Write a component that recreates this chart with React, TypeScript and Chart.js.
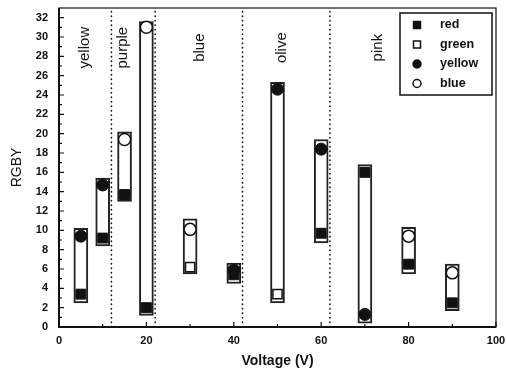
import React, { useEffect, useRef } from 'react';
import { Chart, registerables } from 'chart.js';

Chart.register(...registerables);

// ---- data ----
const voltages = [5, 10, 15, 20, 30, 40, 50, 60, 70, 80, 90];
const redValues = [3.4, 9.2, 13.7, 2.0, null, 5.4, null, 9.7, 16.0, 6.5, 2.5];
const greenValues = [null, null, null, null, 6.2, null, 3.4, null, null, null, null];
const yellowValues = [9.4, 14.7, null, null, null, 5.9, 24.6, 18.4, 1.3, null, null];
const blueValues = [null, null, 19.4, 31.0, 10.1, null, null, null, null, 9.4, 5.6];
const rangeLow = [2.5, 8.4, 13.0, 1.2, 5.5, 4.5, 2.5, 8.7, 0.4, 5.5, 1.7];
const rangeHigh = [10.2, 15.4, 20.2, 31.6, 11.2, 6.6, 25.3, 19.4, 16.8, 10.3, 6.5];
const dividerVoltages = [12, 22, 42, 62];
const regionLabels = ['yellow', 'purple', 'blue', 'olive', 'pink'];
const regionLabelVoltages = [6, 14.7, 32.3, 51.1, 72.9];
const regionLabelLevel = 28.9;
const xTicks = [0, 20, 40, 60, 80, 100];
const yTicks = [0, 2, 4, 6, 8, 10, 12, 14, 16, 18, 20, 22, 24, 26, 28, 30, 32];
const xMinorTicks = [10, 30, 50, 70, 90];
const yMinorTicks = [1, 3, 5, 7, 9, 11, 13, 15, 17, 19, 21, 23, 25, 27, 29, 31];

const FONT = "'Liberation Sans', Arial, sans-serif";
const INK = '#111';

const toPoints = (vals: (number | null)[]) =>
  voltages
    .map((v, i) => ({ x: v, y: vals[i] }))
    .filter((p) => p.y !== null) as { x: number; y: number }[];

const decorPlugin = {
  id: 'decor',
  beforeDatasetsDraw(chart: any) {
    const { ctx, chartArea: ca, scales } = chart;
    ctx.save();
    ctx.strokeStyle = INK;
    ctx.lineWidth = 1.6;
    ctx.lineCap = 'round';
    ctx.setLineDash([0.5, 4]);
    dividerVoltages.forEach((v) => {
      const x = scales.x.getPixelForValue(v);
      ctx.beginPath();
      ctx.moveTo(x, ca.bottom);
      ctx.lineTo(x, ca.top);
      ctx.stroke();
    });
    ctx.restore();
  },
  afterDraw(chart: any) {
    const { ctx, chartArea: ca, scales } = chart;
    ctx.save();
    // frame
    ctx.strokeStyle = INK;
    ctx.lineWidth = 1.2;
    ctx.strokeRect(ca.left, ca.top, ca.right - ca.left, ca.bottom - ca.top);
    ctx.lineWidth = 2;
    ctx.beginPath();
    ctx.moveTo(ca.left, ca.top);
    ctx.lineTo(ca.left, ca.bottom);
    ctx.lineTo(ca.right, ca.bottom);
    ctx.stroke();
    // inward ticks
    ctx.lineWidth = 1.2;
    ctx.beginPath();
    yTicks.forEach((v) => {
      const y = scales.y.getPixelForValue(v);
      ctx.moveTo(ca.left, y);
      ctx.lineTo(ca.left + 5, y);
    });
    yMinorTicks.forEach((v) => {
      const y = scales.y.getPixelForValue(v);
      ctx.moveTo(ca.left, y);
      ctx.lineTo(ca.left + 3, y);
    });
    xTicks.forEach((v) => {
      const x = scales.x.getPixelForValue(v);
      ctx.moveTo(x, ca.bottom);
      ctx.lineTo(x, ca.bottom - 5);
    });
    xMinorTicks.forEach((v) => {
      const x = scales.x.getPixelForValue(v);
      ctx.moveTo(x, ca.bottom);
      ctx.lineTo(x, ca.bottom - 3);
    });
    ctx.stroke();

    // region labels
    ctx.fillStyle = INK;
    ctx.font = `15px ${FONT}`;
    ctx.textAlign = 'center';
    ctx.textBaseline = 'middle';
    regionLabels.forEach((t, i) => {
      const x = scales.x.getPixelForValue(regionLabelVoltages[i]);
      const y = scales.y.getPixelForValue(regionLabelLevel);
      ctx.save();
      ctx.translate(x, y);
      ctx.rotate(-Math.PI / 2);
      ctx.fillText(t, 0, 0);
      ctx.restore();
    });

    // legend
    const boxR = ca.right - 4;
    const boxL = boxR - 92;
    const boxT = ca.top + 5;
    const boxB = boxT + 82;
    ctx.lineWidth = 1.5;
    ctx.strokeRect(boxL, boxT, boxR - boxL, boxB - boxT);
    ctx.font = `bold 12.5px ${FONT}`;
    ctx.textAlign = 'left';
    const sets = chart.data.datasets.filter((d: any) => d.type === 'scatter');
    sets.forEach((d: any, i: number) => {
      const cy = boxT + 12 + i * 19.5;
      const mx = boxL + 17;
      ctx.lineWidth = 1.5;
      ctx.strokeStyle = INK;
      ctx.fillStyle = d.backgroundColor;
      ctx.beginPath();
      if (d.pointStyle === 'rect') {
        ctx.rect(mx - 3.5, cy - 3.5, 7, 7);
      } else {
        ctx.arc(mx, cy, 4, 0, Math.PI * 2);
      }
      ctx.fill();
      ctx.stroke();
      ctx.fillStyle = INK;
      ctx.fillText(d.label, boxL + 40, cy);
    });
    ctx.restore();
  },
};

export default function App() {
  const canvasRef = useRef<HTMLCanvasElement | null>(null);

  useEffect(() => {
    document.body.style.margin = '0';
    const canvas = canvasRef.current;
    if (!canvas) return;
    const chart = new Chart(canvas, {
      type: 'scatter',
      data: {
        datasets: [
          {
            type: 'scatter',
            label: 'red',
            data: toPoints(redValues),
            pointStyle: 'rect',
            pointRadius: 7,
            backgroundColor: INK,
            borderColor: INK,
            borderWidth: 1,
            order: 0,
          },
          {
            type: 'scatter',
            label: 'green',
            data: toPoints(greenValues),
            pointStyle: 'rect',
            pointRadius: 6.5,
            backgroundColor: '#ffffff',
            borderColor: INK,
            borderWidth: 1.5,
            order: 0,
          },
          {
            type: 'scatter',
            label: 'yellow',
            data: toPoints(yellowValues),
            pointStyle: 'circle',
            pointRadius: 6,
            backgroundColor: INK,
            borderColor: INK,
            borderWidth: 1,
            order: 0,
          },
          {
            type: 'scatter',
            label: 'blue',
            data: toPoints(blueValues),
            pointStyle: 'circle',
            pointRadius: 6,
            backgroundColor: '#ffffff',
            borderColor: INK,
            borderWidth: 1.5,
            order: 0,
          },
          {
            type: 'bar',
            label: 'range',
            data: voltages.map((v, i) => ({ x: v, y: [rangeLow[i], rangeHigh[i]] })),
            barThickness: 14,
            backgroundColor: '#ffffff',
            borderColor: '#222',
            borderWidth: 2,
            borderSkipped: false,
            order: 1,
          } as any,
        ],
      },
      options: {
        responsive: false,
        animation: false,
        events: [],
        layout: { padding: { left: 0, right: 10, top: 2, bottom: 0 } },
        plugins: {
          legend: { display: false },
          tooltip: { enabled: false },
        },
        scales: {
          x: {
            type: 'linear',
            min: 0,
            max: 100,
            offset: false,
            afterBuildTicks: (s: any) => {
              s.ticks = xTicks.map((v) => ({ value: v }));
            },
            afterFit: (s: any) => {
              s.height = 51;
              s.paddingLeft = 0;
              s.paddingRight = 0;
              s.paddingTop = 0;
              s.paddingBottom = 0;
            },
            grid: { display: false, drawTicks: false, offset: false },
            border: { display: false },
            ticks: {
              padding: 7,
              color: INK,
              font: { family: FONT, size: 11, weight: 'bold' },
            },
            title: {
              display: true,
              text: 'Voltage (V)',
              color: INK,
              font: { family: FONT, size: 14, weight: 'bold' },
              padding: { top: 0, bottom: 8 },
            },
          },
          y: {
            type: 'linear',
            min: 0,
            max: 33,
            afterBuildTicks: (s: any) => {
              s.ticks = yTicks.map((v) => ({ value: v }));
            },
            afterFit: (s: any) => {
              s.width = 59;
              s.paddingLeft = 0;
              s.paddingRight = 0;
              s.paddingTop = 0;
              s.paddingBottom = 0;
            },
            grid: { display: false, drawTicks: false },
            border: { display: false },
            ticks: {
              padding: 11,
              color: INK,
              font: { family: FONT, size: 11, weight: 'bold' },
            },
            title: {
              display: true,
              text: 'RGBY',
              color: INK,
              font: { family: FONT, size: 14 },
              padding: { top: 9, bottom: 0 },
            },
          },
        },
      },
      plugins: [decorPlugin],
    } as any);
    return () => chart.destroy();
  }, []);

  return (
    <div style={{ width: 506, height: 378, background: '#fff' }}>
      <canvas ref={canvasRef} width={506} height={378} />
    </div>
  );
}
